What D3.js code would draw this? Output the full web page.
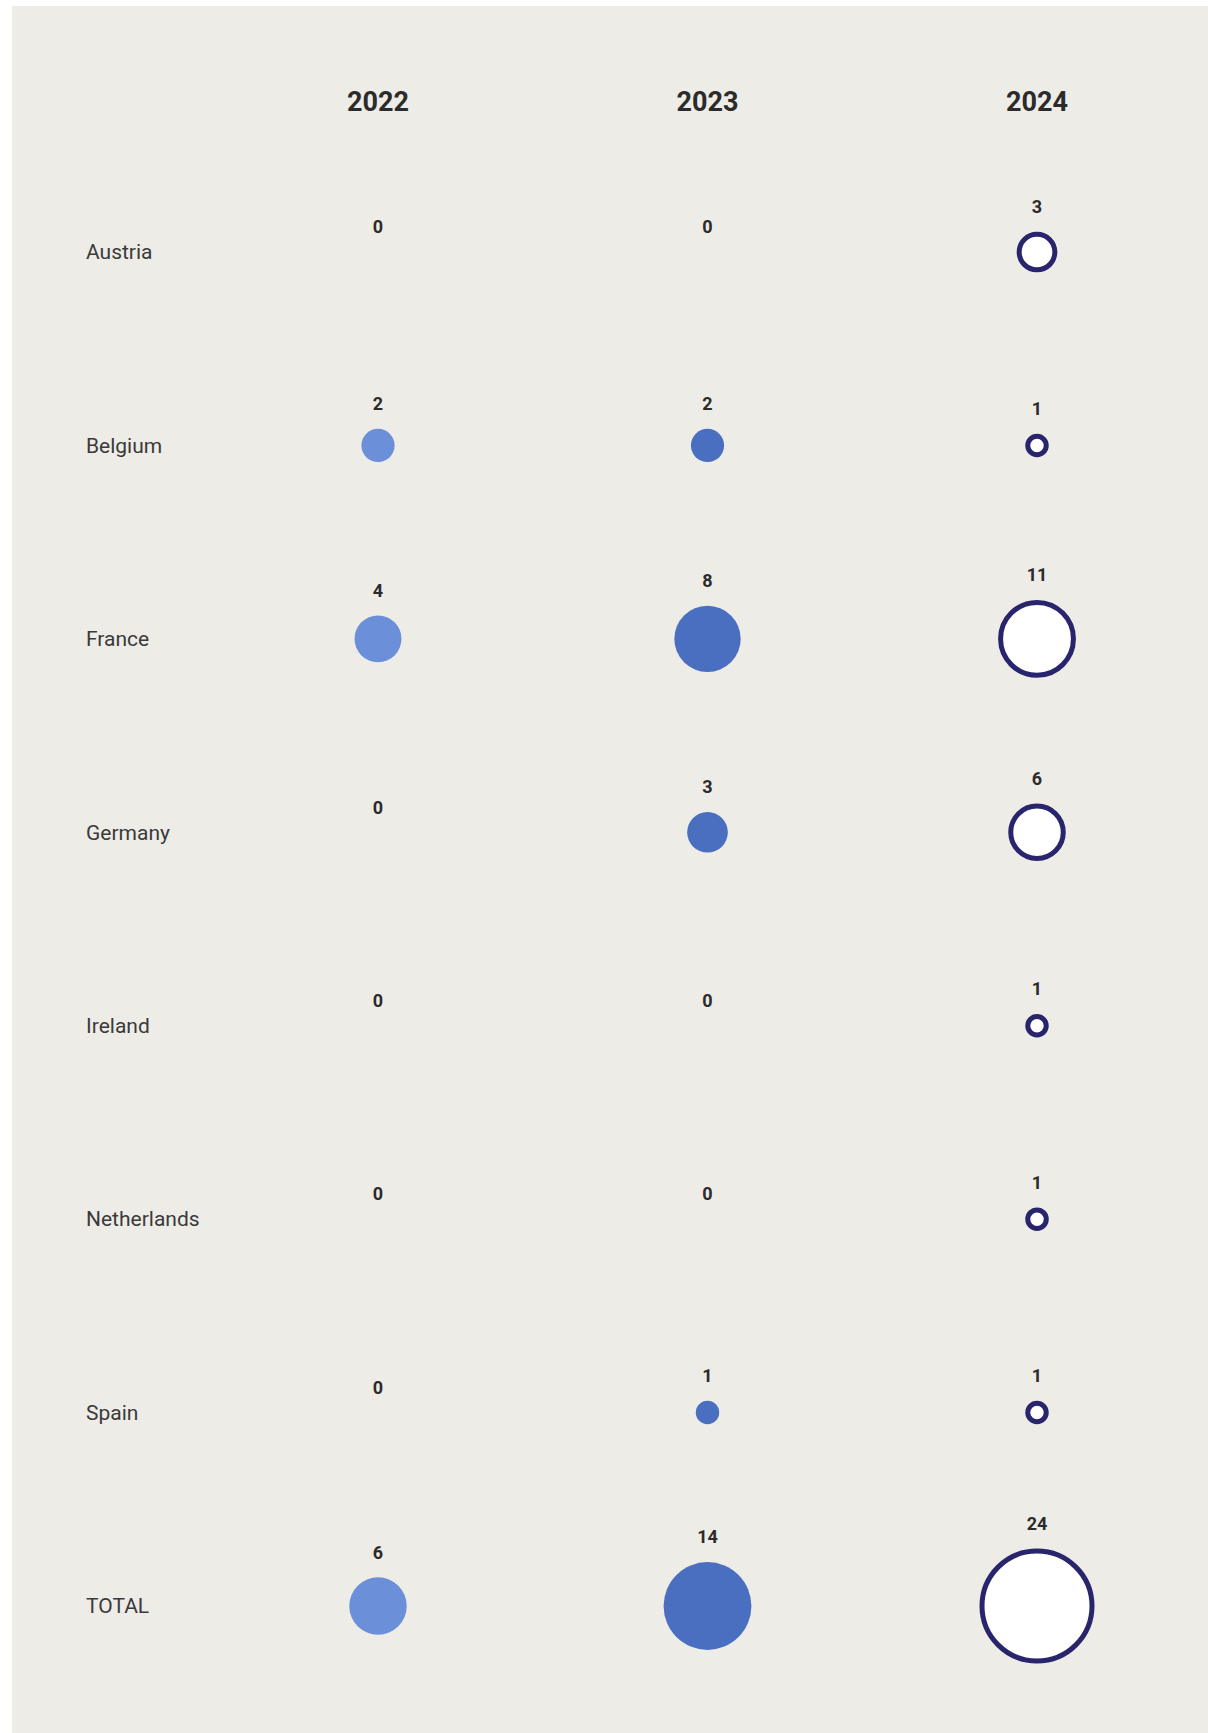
<!DOCTYPE html>
<html>
<head>
<meta charset="utf-8">
<script src="https://cdn.jsdelivr.net/npm/d3@7"></script>
<style>
  html, body { margin: 0; padding: 0; background: #ffffff; }
  svg { display: block; font-family: Roboto, "Noto Sans", sans-serif; }
</style>
</head>
<body>
<div class="chart"></div>
<script>
const svgWidth = 1208;
const svgHeight = 1733;

// data
const years = ['2022', '2023', '2024'];
const countries = ['Austria', 'Belgium', 'France', 'Germany', 'Ireland', 'Netherlands', 'Spain', 'TOTAL'];
const values2022 = [0, 2, 4, 0, 0, 0, 0, 6];
const values2023 = [0, 2, 8, 3, 0, 0, 1, 14];
const values2024 = [3, 1, 11, 6, 1, 1, 1, 24];

const yearFill = { '2022': '#6b8fd8', '2023': '#4a6fc1', '2024': '#ffffff' };
const strokeColor = '#28256c';
const strokeW = 5;

const svg = d3.select('.chart')
  .append('svg')
  .attr('width', svgWidth)
  .attr('height', svgHeight);

// panel background
svg.append('rect')
  .attr('x', 12)
  .attr('y', 6)
  .attr('width', svgWidth - 12)
  .attr('height', svgHeight - 6)
  .attr('fill', '#eeece7');

// scales
const x = d3.scalePoint()
  .domain(years)
  .range([378, 1037]);

const y = d3.scalePoint()
  .domain(countries)
  .range([252, 1606]);

const rScale = d3.scaleSqrt()
  .domain([0, 24])
  .range([0, 57.5]);

// build cells from the arrays
const cells = [];
countries.forEach((c, i) => {
  cells.push({ country: c, year: '2022', value: values2022[i] });
  cells.push({ country: c, year: '2023', value: values2023[i] });
  cells.push({ country: c, year: '2024', value: values2024[i] });
});

// year headers
svg.selectAll('.year')
  .data(years)
  .enter()
  .append('text')
  .attr('class', 'year')
  .attr('x', d => x(d))
  .attr('y', 102)
  .attr('dy', '0.35em')
  .style('text-anchor', 'middle')
  .style('font-size', '27px')
  .style('font-weight', 700)
  .style('fill', '#2b2b2b')
  .text(d => d);

// country labels
svg.selectAll('.country')
  .data(countries)
  .enter()
  .append('text')
  .attr('class', 'country')
  .attr('x', 86)
  .attr('y', d => y(d))
  .attr('dy', '0.35em')
  .style('font-size', '21px')
  .style('fill', '#3a3a3a')
  .text(d => d);

// bubbles
svg.selectAll('.bubble')
  .data(cells.filter(d => d.value > 0))
  .enter()
  .append('circle')
  .attr('class', 'bubble')
  .attr('cx', d => x(d.year))
  .attr('cy', d => y(d.country))
  .attr('r', d => d.year === '2024' ? rScale(d.value) - strokeW / 2 : rScale(d.value))
  .attr('fill', d => yearFill[d.year])
  .attr('stroke', d => d.year === '2024' ? strokeColor : 'none')
  .attr('stroke-width', strokeW);

// value labels
svg.selectAll('.value')
  .data(cells)
  .enter()
  .append('text')
  .attr('class', 'value')
  .attr('x', d => x(d.year))
  .attr('y', d => y(d.country) - rScale(d.value) - 25)
  .attr('dy', '0.35em')
  .style('text-anchor', 'middle')
  .style('font-size', '18px')
  .style('font-weight', 700)
  .style('fill', '#2b2b2b')
  .text(d => d.value);
</script>
</body>
</html>
